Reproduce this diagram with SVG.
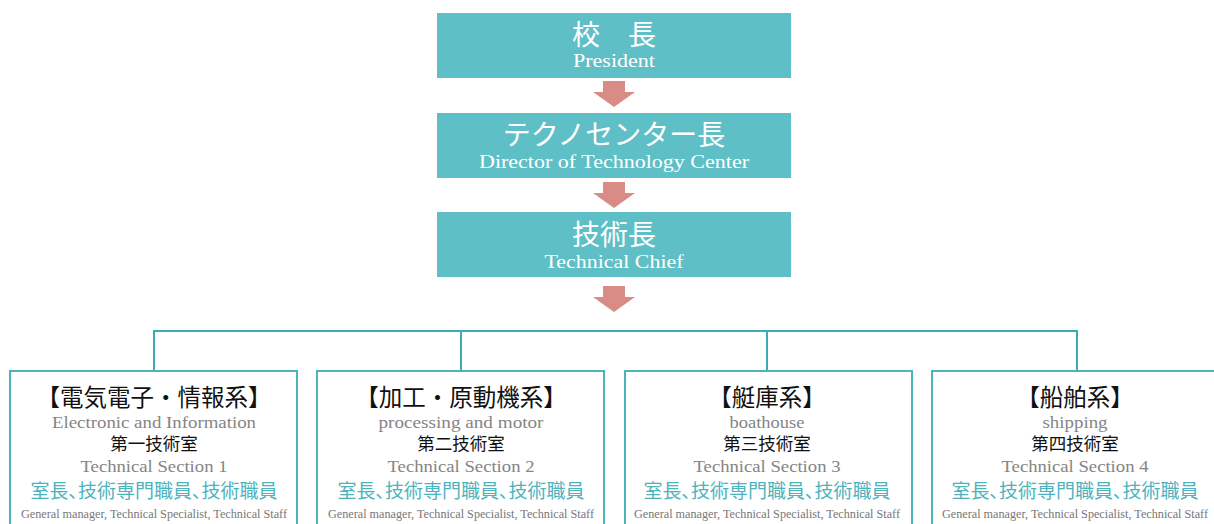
<svg xmlns="http://www.w3.org/2000/svg" width="1214" height="524" viewBox="0 0 1214 524">
<style>
.top{fill:#5fbfc6}
.arr{fill:#d98c86}
.conn{stroke:#3aabb7;stroke-width:2;fill:none}
.box{fill:#fff;stroke:#4db3bd;stroke-width:2}
.jw{font-family:"Noto Sans CJK JP","Noto Sans",sans-serif;fill:#fff;font-size:28px;text-anchor:middle}
.ew{font-family:"Liberation Serif",serif;fill:#fff;font-size:18px;text-anchor:middle}
.t1{font-family:"Noto Sans CJK JP",sans-serif;fill:#111;font-size:23.5px;text-anchor:middle}
.e1{font-family:"Liberation Serif",serif;fill:#858585;font-size:17px;text-anchor:middle}
.j2{font-family:"Noto Sans CJK JP",sans-serif;fill:#111;font-size:17.5px;text-anchor:middle}
.j3{font-family:"Noto Sans CJK JP",sans-serif;fill:#4db3bd;font-size:19px;text-anchor:middle;font-feature-settings:"palt"}
.e3{font-family:"Liberation Serif",serif;fill:#777;font-size:12px;text-anchor:middle}
</style>
<defs>
<path id="arrow" d="M-11 0 H11 V11 H21 L0 26 L-21 11 H-11 Z"/>
</defs>
<g id="president">
<rect class="top" x="437" y="13" width="354" height="65"/>
<text class="jw" x="614" y="45">校　長</text>
<text class="ew" x="614" y="67" textLength="82" lengthAdjust="spacingAndGlyphs">President</text>
</g>
<g id="director">
<rect class="top" x="437" y="113" width="354" height="65"/>
<text class="jw" x="614" y="145">テクノセンター長</text>
<text class="ew" x="614" y="168" textLength="270" lengthAdjust="spacingAndGlyphs">Director of Technology Center</text>
</g>
<g id="chief">
<rect class="top" x="437" y="212" width="354" height="65"/>
<text class="jw" x="614" y="245">技術長</text>
<text class="ew" x="614" y="268" textLength="139" lengthAdjust="spacingAndGlyphs">Technical Chief</text>
</g>
<g id="connectors">
<use href="#arrow" class="arr" x="614" y="81"/>
<use href="#arrow" class="arr" x="614" y="182"/>
<use href="#arrow" class="arr" x="614" y="286"/>
<path class="conn" d="M154 371 V331 H1077 V371 M461 331 V371 M767 331 V371"/>
</g>
<g id="section1">
<rect class="box" x="10" y="371" width="287" height="170"/>
<text class="t1" x="154" y="406">【電気電子・情報系】</text>
<text class="e1" x="154" y="428" textLength="204" lengthAdjust="spacingAndGlyphs">Electronic and Information</text>
<text class="j2" x="154" y="450">第一技術室</text>
<text class="e1" x="154" y="472" textLength="147" lengthAdjust="spacingAndGlyphs">Technical Section 1</text>
<text class="j3" x="154" y="498">室長、技術専門職員、技術職員</text>
<text class="e3" x="154" y="518" textLength="266" lengthAdjust="spacingAndGlyphs">General manager, Technical Specialist, Technical Staff</text>
</g>
<g id="section2">
<rect class="box" x="317" y="371" width="287" height="170"/>
<text class="t1" x="461" y="406">【加工・原動機系】</text>
<text class="e1" x="461" y="428" textLength="165" lengthAdjust="spacingAndGlyphs">processing and motor</text>
<text class="j2" x="461" y="450">第二技術室</text>
<text class="e1" x="461" y="472" textLength="147" lengthAdjust="spacingAndGlyphs">Technical Section 2</text>
<text class="j3" x="461" y="498">室長、技術専門職員、技術職員</text>
<text class="e3" x="461" y="518" textLength="266" lengthAdjust="spacingAndGlyphs">General manager, Technical Specialist, Technical Staff</text>
</g>
<g id="section3">
<rect class="box" x="625" y="371" width="287" height="170"/>
<text class="t1" x="767" y="406">【艇庫系】</text>
<text class="e1" x="767" y="428" textLength="75" lengthAdjust="spacingAndGlyphs">boathouse</text>
<text class="j2" x="767" y="450">第三技術室</text>
<text class="e1" x="767" y="472" textLength="147" lengthAdjust="spacingAndGlyphs">Technical Section 3</text>
<text class="j3" x="767" y="498">室長、技術専門職員、技術職員</text>
<text class="e3" x="767" y="518" textLength="266" lengthAdjust="spacingAndGlyphs">General manager, Technical Specialist, Technical Staff</text>
</g>
<g id="section4">
<rect class="box" x="932" y="371" width="287" height="170"/>
<text class="t1" x="1075" y="406">【船舶系】</text>
<text class="e1" x="1075" y="428" textLength="65" lengthAdjust="spacingAndGlyphs">shipping</text>
<text class="j2" x="1075" y="450">第四技術室</text>
<text class="e1" x="1075" y="472" textLength="147" lengthAdjust="spacingAndGlyphs">Technical Section 4</text>
<text class="j3" x="1075" y="498">室長、技術専門職員、技術職員</text>
<text class="e3" x="1075" y="518" textLength="266" lengthAdjust="spacingAndGlyphs">General manager, Technical Specialist, Technical Staff</text>
</g>
</svg>
